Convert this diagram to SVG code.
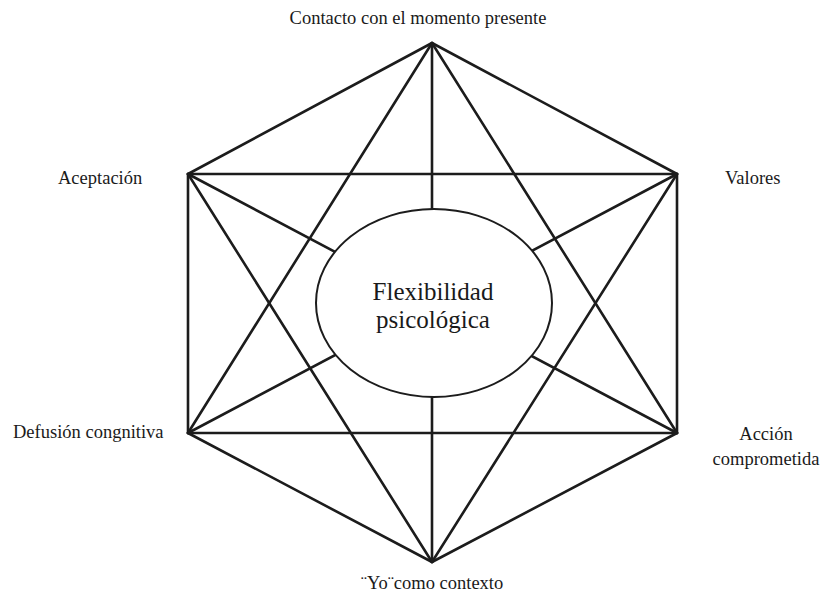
<svg xmlns="http://www.w3.org/2000/svg" width="825" height="595" viewBox="0 0 825 595">
  <style>
    .edge { stroke: #1c1c1c; stroke-width: 2.6; stroke-linecap: round; fill: none; }
    text { font-family: 'Liberation Serif', 'Times New Roman', Times, 'DejaVu Serif', serif; fill: #1a1a1a; }
    .lbl { font-size: 18.5px; }
    .core { font-size: 25px; text-anchor: middle; }
  </style>
  <rect width="825" height="595" fill="#ffffff"/>

  <!-- every pair of the six processes is linked -->
  <g id="connectors">
    <!-- outer hexagon -->
    <line class="edge" x1="432" y1="43" x2="188" y2="174"/>
    <line class="edge" x1="432" y1="43" x2="677" y2="174"/>
    <line class="edge" x1="188" y1="174" x2="188" y2="433"/>
    <line class="edge" x1="677" y1="174" x2="677" y2="433"/>
    <line class="edge" x1="188" y1="433" x2="432" y2="562"/>
    <line class="edge" x1="677" y1="433" x2="432" y2="562"/>
    <!-- horizontals -->
    <line class="edge" x1="188" y1="174" x2="677" y2="174"/>
    <line class="edge" x1="188" y1="433" x2="677" y2="433"/>
    <!-- star triangles -->
    <line class="edge" x1="432" y1="43" x2="188" y2="433"/>
    <line class="edge" x1="432" y1="43" x2="677" y2="433"/>
    <line class="edge" x1="432" y1="562" x2="188" y2="174"/>
    <line class="edge" x1="432" y1="562" x2="677" y2="174"/>
    <!-- through the centre -->
    <line class="edge" x1="432" y1="43" x2="432" y2="562"/>
    <line class="edge" x1="188" y1="174" x2="677" y2="433"/>
    <line class="edge" x1="677" y1="174" x2="188" y2="433"/>
  </g>

  <g id="centre">
    <ellipse cx="434" cy="303" rx="118" ry="94" fill="#ffffff" stroke="#1c1c1c" stroke-width="2"/>
    <text class="core" x="433" y="300" font-family="Liberation Serif, serif">Flexibilidad</text>
    <text class="core" x="433" y="328" font-family="Liberation Serif, serif">psicológica</text>
  </g>

  <g id="contacto">
    <text class="lbl" x="418" y="24" text-anchor="middle">Contacto con el momento presente</text>
  </g>
  <g id="aceptacion">
    <text class="lbl" x="58" y="184">Aceptación</text>
  </g>
  <g id="valores">
    <text class="lbl" x="725" y="184">Valores</text>
  </g>
  <g id="defusion">
    <text class="lbl" x="13" y="438">Defusión congnitiva</text>
  </g>
  <g id="accion">
    <text class="lbl" x="766" y="440" text-anchor="middle">Acción</text>
    <text class="lbl" x="766" y="465" text-anchor="middle">comprometida</text>
  </g>
  <g id="yo">
    <text class="lbl" x="432" y="589" text-anchor="middle">¨Yo¨como contexto</text>
  </g>
</svg>
